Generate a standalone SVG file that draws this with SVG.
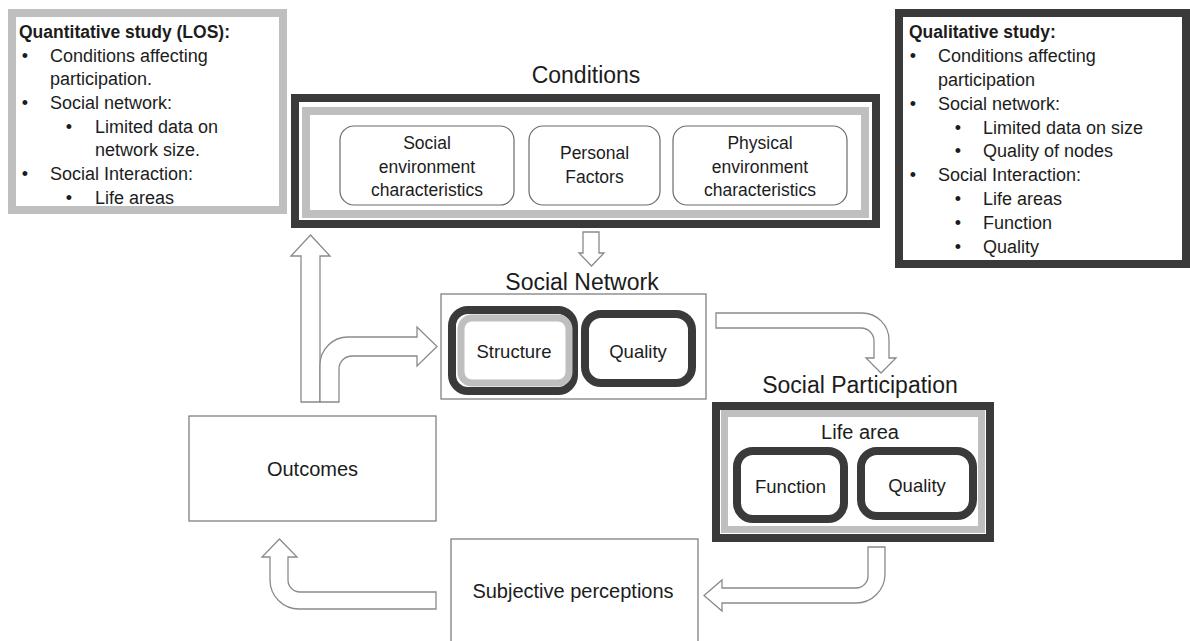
<svg xmlns="http://www.w3.org/2000/svg" width="1190" height="641" viewBox="0 0 1190 641">
  <style>
    text { font-family: "Liberation Sans", Arial, sans-serif; fill: #1c1c1c; }
    .note { font-size: 18px; }
    .noteHead { font-size: 17.5px; font-weight: bold; }
    .bul { font-size: 18px; text-anchor: middle; }
    .title { font-size: 23px; text-anchor: middle; }
    .lbl { font-size: 18.5px; text-anchor: middle; }
    .lblBig { font-size: 20px; text-anchor: middle; }
    .cond { font-size: 17.5px; text-anchor: middle; }
    .frameDark { fill: none; stroke: #3a3a3a; stroke-width: 8; }
    .frameGray { fill: none; stroke: #bfbfbf; stroke-width: 8; }
    .thickDark { fill: #ffffff; stroke: #3a3a3a; stroke-width: 8; }
    .thinBox { fill: #ffffff; stroke: #808080; stroke-width: 1.3; }
    .roundBox { fill: #ffffff; stroke: #6a6a6a; stroke-width: 1.2; }
    .arrow { fill: #ffffff; stroke: #8a8a8a; stroke-width: 1.3; stroke-linejoin: miter; }
  </style>

  <rect width="1190" height="641" fill="#ffffff"/>

  <!-- Quantitative study note -->
  <g id="quantitative-study">
    <rect x="12" y="13" width="271" height="197" fill="#ffffff" class="frameGray"/>
    <text class="noteHead" x="19" y="38">Quantitative  study (LOS):</text>
    <text class="bul" x="25" y="62">•</text>
    <text class="note" x="50" y="62">Conditions affecting</text>
    <text class="note" x="50" y="85">participation.</text>
    <text class="bul" x="25" y="109">•</text>
    <text class="note" x="50" y="109">Social network:</text>
    <text class="bul" x="69" y="133">•</text>
    <text class="note" x="95" y="133">Limited data on</text>
    <text class="note" x="95" y="156">network size.</text>
    <text class="bul" x="25" y="180">•</text>
    <text class="note" x="50" y="180">Social Interaction:</text>
    <text class="bul" x="69" y="204">•</text>
    <text class="note" x="95" y="204">Life areas</text>
  </g>

  <!-- Qualitative study note -->
  <g id="qualitative-study">
    <rect x="899" y="13" width="287" height="251" fill="#ffffff" class="frameDark"/>
    <text class="noteHead" x="909" y="38">Qualitative study:</text>
    <text class="bul" x="913" y="62">•</text>
    <text class="note" x="938" y="62">Conditions affecting</text>
    <text class="note" x="938" y="86">participation</text>
    <text class="bul" x="913" y="110">•</text>
    <text class="note" x="938" y="110">Social network:</text>
    <text class="bul" x="958" y="134">•</text>
    <text class="note" x="983" y="134">Limited data on size</text>
    <text class="bul" x="958" y="157">•</text>
    <text class="note" x="983" y="157">Quality of nodes</text>
    <text class="bul" x="913" y="181">•</text>
    <text class="note" x="938" y="181">Social Interaction:</text>
    <text class="bul" x="958" y="205">•</text>
    <text class="note" x="983" y="205">Life areas</text>
    <text class="bul" x="958" y="229">•</text>
    <text class="note" x="983" y="229">Function</text>
    <text class="bul" x="958" y="253">•</text>
    <text class="note" x="983" y="253">Quality</text>
  </g>

  <!-- Conditions -->
  <g id="conditions">
    <text class="title" x="586" y="83">Conditions</text>
    <rect x="295" y="98" width="581" height="126" fill="#ffffff" class="frameDark"/>
    <rect x="306" y="111" width="559" height="103" class="frameGray"/>
    <g id="social-environment">
      <rect x="340" y="126" width="174" height="79" rx="14" class="roundBox"/>
      <text class="cond" x="427" y="149">Social</text>
      <text class="cond" x="427" y="173">environment</text>
      <text class="cond" x="427" y="196">characteristics</text>
    </g>
    <g id="personal-factors">
      <rect x="529" y="126" width="131" height="79" rx="14" class="roundBox"/>
      <text class="cond" x="594.5" y="159">Personal</text>
      <text class="cond" x="594.5" y="183">Factors</text>
    </g>
    <g id="physical-environment">
      <rect x="673" y="126" width="174" height="79" rx="14" class="roundBox"/>
      <text class="cond" x="760" y="149">Physical</text>
      <text class="cond" x="760" y="173">environment</text>
      <text class="cond" x="760" y="196">characteristics</text>
    </g>
  </g>

  <!-- Social Network -->
  <g id="social-network">
    <text class="title" x="582" y="290">Social Network</text>
    <rect x="441" y="294" width="265" height="105" class="thinBox"/>
    <g id="structure">
      <rect x="452" y="310" width="122" height="81" rx="16" class="thickDark"/>
      <rect x="461" y="318" width="108" height="65" rx="11" fill="#ffffff" stroke="#bfbfbf" stroke-width="7"/>
      <text class="lbl" x="514" y="358">Structure</text>
    </g>
    <g id="network-quality">
      <rect x="585" y="314" width="107" height="69" rx="16" class="thickDark"/>
      <text class="lbl" x="638" y="358">Quality</text>
    </g>
  </g>

  <!-- Social Participation -->
  <g id="social-participation">
    <text class="title" x="860" y="393">Social Participation</text>
    <rect x="716" y="406" width="274" height="132" fill="#ffffff" class="frameDark"/>
    <rect x="724.5" y="413.5" width="257" height="116" fill="none" stroke="#bfbfbf" stroke-width="7"/>
    <text class="lblBig" x="860" y="439">Life area</text>
    <g id="function">
      <rect x="737" y="451" width="107" height="68" rx="16" class="thickDark"/>
      <text class="lbl" x="790.5" y="493">Function</text>
    </g>
    <g id="participation-quality">
      <rect x="861" y="451" width="112" height="65" rx="16" class="thickDark"/>
      <text class="lbl" x="917" y="492">Quality</text>
    </g>
  </g>

  <!-- Outcomes -->
  <g id="outcomes">
    <rect x="189" y="416" width="247" height="105" class="thinBox"/>
    <text class="lblBig" x="312.5" y="476">Outcomes</text>
  </g>

  <!-- Subjective perceptions -->
  <g id="subjective-perceptions">
    <rect x="451" y="539" width="247" height="120" class="thinBox"/>
    <text class="lblBig" x="573" y="598">Subjective perceptions</text>
  </g>

  <!-- Connectors: hollow block arrows -->
  <g id="connectors">
    <path class="arrow" d="M583,232 L599,232 L599,253 L604,253 L591.5,266 L579,253 L583,253 Z"/>
    <path class="arrow" d="M301,402 L301,256 L291,256 L310.5,235 L330,256 L320,256 L320,402 Z"/>
    <path class="arrow" d="M320,402 L320,365 A28,28 0 0 1 348,337 L417,337 L417,327 L437,346.5 L417,366 L417,356 L352,356 A13,13 0 0 0 339,369 L339,402 Z"/>
    <path class="arrow" d="M716,313 L862,313 A27,27 0 0 1 889,340 L889,358 L896,358 L881,373 L866,358 L874,358 L874,341 A13,13 0 0 0 861,328 L716,328 Z"/>
    <path class="arrow" d="M868,547 L868,576 A12,12 0 0 1 856,588 L722,588 L722,580 L704,595.5 L722,611 L722,603 L856,603 A29,29 0 0 0 885,574 L885,547 Z"/>
    <path class="arrow" d="M436,592 L300,592 A12,12 0 0 1 288,580 L288,557 L297,557 L279.5,539 L262,557 L270,557 L270,580 A29,29 0 0 0 299,609 L436,609 Z"/>
  </g>
</svg>
